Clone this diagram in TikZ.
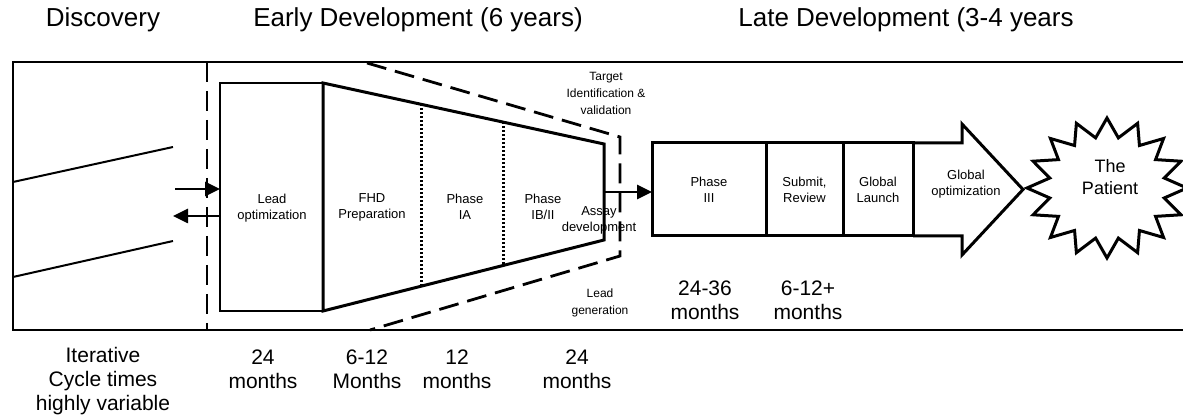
\documentclass[tikz,border=0pt]{standalone}
\usepackage{fontspec}
\setmainfont{Liberation Sans}
\usepackage{tikz}
\usetikzlibrary{calc, positioning, arrows.meta}

\begin{document}
\begin{tikzpicture}[x=1pt,y=-1pt,
                    title node/.style={font=\fontsize{26}{30}\selectfont},
                    time node/.style={align=center,font=\fontsize{21}{24}\selectfont},
                    small node/.style={align=center,font=\fontsize{13}{16}\selectfont},
                    tiny node/.style={align=center,font=\fontsize{12}{17}\selectfont},
                    frame line/.style={line width=2pt},
                    heavy line/.style={line width=3pt},
                    dash line/.style={line width=2.8pt,dash pattern=on 20pt off 9pt},
                    dot line/.style={line width=3pt,dash pattern=on 2pt off 2pt},
                    flow arrow/.style={line width=2.6pt,-{Triangle[length=15pt,width=14pt]}},
                    late box/.style={draw,heavy line,outer sep=0pt,inner sep=0pt,minimum height=93pt,small node}]

 \useasboundingbox (0,0) rectangle (1183,419);

 % headings
 \node[title node,anchor=base] (disc)  at (103,27) {Discovery};
 \node[title node,anchor=base] (early) at (418,27) {Early Development (6 years)};
 \node[title node,anchor=base] (late)  at (906,27) {Late Development (3-4 years};

 % frame and discovery
 \draw[frame line] (1183,62) -- (13,62) -- (13,330) -- (1183,330);
 \draw[frame line] (13,182) -- (173,147);
 \draw[frame line] (13,277) -- (173,241);

 % early development
 \node[draw,frame line,outer sep=0pt,minimum width=103pt,minimum height=228pt] (leadbox) at (271.5,197) {};
 \coordinate (trapNE) at (604,144);
 \coordinate (trapSE) at (604,240);
 \draw[heavy line] (leadbox.north east) -- (trapNE) -- (trapSE) -- (leadbox.south east) -- cycle;

 \path (leadbox.north east) -- (trapNE) coordinate[pos=0.349] (iaTop) coordinate[pos=0.644] (ibTop);
 \path (leadbox.south east) -- (trapSE) coordinate[pos=0.349] (iaBot) coordinate[pos=0.644] (ibBot);
 \draw[dot line] (iaTop) -- (iaBot);
 \draw[dot line] (ibTop) -- (ibBot);

 \draw[dash line] (207,62) -- (207,330);
 \draw[dash line] (367,63) -- (620,137) -- (620,256) -- (370,330);

 \node[small node] (leadopt) at (272,208) {Lead\\optimization};
 \node[small node] (fhd)     at (372,207) {FHD\\Preparation};
 \node[small node] (ia)      at (465,207) {Phase\\IA};
 \node[small node] (ib)      at (543,207) {Phase\\IB/II};
 \node[small node] (assay)   at (599,220) {Assay\\development};
 \node[tiny node]  (target)  at (606,93)  {Target\\Identification \&\\validation};
 \node[tiny node]  (leadgen) at (600,303) {Lead\\generation};

 % late development
 \node[late box,minimum width=114pt] (p3) at (709,189.5) {Phase\\III};
 \node[late box,minimum width=77pt,right=0pt of p3] (review) {Submit,\\Review};
 \node[late box,minimum width=70pt,right=0pt of review] (launch) {Global\\Launch};
 \draw[heavy line] (launch.north east) -- (962,143) -- (962,124) -- (1023,189.5)
                   -- (962,255) -- (962,236) -- (launch.south east);
 \node[small node] (globopt) at (966,184) {Global\\optimization};

 \draw[heavy line] plot[samples at={0,...,31},variable=\k]
   ({1107+(1-0.27*mod(\k,2))*80*cos(90+11.25*\k)},{188-(1-0.27*mod(\k,2))*70*sin(90+11.25*\k)}) -- cycle;
 \node[font=\fontsize{18}{22}\selectfont,align=center] (patient) at (1110,177) {The\\Patient};

 % arrows
 \coordinate (discIn)  at (175,189);
 \coordinate (discOut) at (173,216);
 \draw[flow arrow] (discIn) -- (discIn -| leadbox.west);
 \draw[flow arrow] (discOut -| leadbox.west) -- (discOut);
 \coordinate (trapMid) at ($(trapNE)!0.5!(trapSE)$);
 \draw[flow arrow] (trapMid) -- (trapMid -| p3.west);

 % durations
 \node[time node] (iter)   at (103,381) {Iterative\\Cycle times\\highly variable};
 \node[time node] (tlead)  at (263,369) {24\\months};
 \node[time node] (tfhd)   at (367,369) {6-12\\Months};
 \node[time node] (tia)    at (457,369) {12\\months};
 \node[time node] (tib)    at (577,369) {24\\months};
 \node[time node] (tp3)    at (705,300) {24-36\\months};
 \node[time node] (treview) at (808,300) {6-12+\\months};

\end{tikzpicture}
\end{document}
